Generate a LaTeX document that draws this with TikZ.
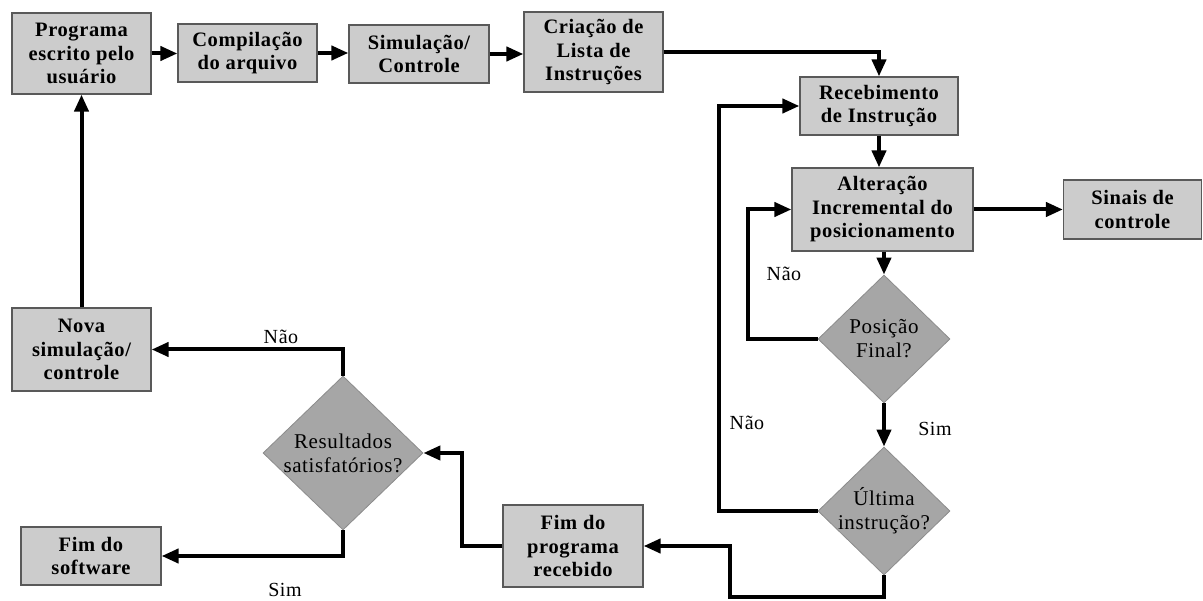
\documentclass[tikz,border=0pt]{standalone}
\usepackage{fontspec}
\setmainfont{Liberation Serif}
\newfontfamily\spacedserif[LetterSpace=3]{Liberation Serif}
\usetikzlibrary{shapes.geometric,arrows.meta}
\begin{document}
\begin{tikzpicture}[x=1pt,y=-1pt,
  procbox/.style={draw=black!65,line width=1.2pt,fill=black!20,rectangle,
    align=center,inner sep=0pt,font=\spacedserif\fontsize{20.5}{23.5}\selectfont\bfseries},
  decision/.style={draw=black!45,line width=0.8pt,fill=black!35,diamond,
    inner sep=0pt,minimum width=#1},
  dtext/.style={align=center,font=\spacedserif\fontsize{21}{24}\selectfont},
  flow/.style={line width=4pt,-{Triangle[length=17pt,width=14pt]}},
  answer/.style={font=\spacedserif\fontsize{20}{22}\selectfont}]
\useasboundingbox (0,0) rectangle (1203,601);

% process boxes
\node[procbox,minimum width=139pt,minimum height=81pt] (prog) at (81.5,53.5) {Programa\\escrito pelo\\usuário};
\node[procbox,minimum width=139pt,minimum height=58pt] (comp) at (247.5,53) {Compilação\\do arquivo};
\node[procbox,minimum width=140pt,minimum height=58pt] (simu) at (419,54) {Simulação/\\Controle};
\node[procbox,minimum width=139pt,minimum height=80pt] (cria) at (593.5,52) {Criação de\\Lista de\\Instruções};
\node[procbox,minimum width=158pt,minimum height=58pt] (rece) at (879,106) {Recebimento\\de Instrução};
\node[procbox,minimum width=181pt,minimum height=83pt] (alte) at (882.5,209.5) {Alteração\\Incremental do\\posicionamento};
\node[procbox,minimum width=138pt,minimum height=59pt] (sina) at (1132.5,209.5) {Sinais de\\controle};
\node[procbox,minimum width=139pt,minimum height=83pt] (nova) at (81.5,349.5) {Nova\\simulação/\\controle};
\node[procbox,minimum width=140pt,minimum height=58pt] (fims) at (91,556) {Fim do\\software};
\node[procbox,minimum width=140pt,minimum height=82pt] (fimp) at (573,546) {Fim do\\programa\\recebido};

% decisions
\node[decision=132pt,minimum height=128pt,label={[dtext]center:Posição\\Final?}] (pos) at (884,339) {};
\node[decision=132pt,minimum height=128pt,label={[dtext]center:Última\\instrução?}] (ult) at (884,511) {};
\node[decision=160pt,minimum height=154pt,label={[dtext]center:Resultados\\satisfatórios?}] (res) at (343,453) {};

% answer labels
\node[answer] (naoa) at (281,337) {Não};
\node[answer] (sima) at (285,590) {Sim};
\node[answer] (naob) at (784,274) {Não};
\node[answer] (naoc) at (747,423) {Não};
\node[answer] (simb) at (935,429) {Sim};

% main flow
\draw[flow] (prog.east) -- (prog.east -| comp.west);
\draw[flow] (comp.east) -- (comp.east -| simu.west);
\draw[flow] (simu.east) -- (simu.east -| cria.west);
\draw[flow] (cria.east) -| (rece.north);
\draw[flow] (rece.south) -- (rece.south |- alte.north);
\draw[flow] (pos.north |- alte.south) -- (pos.north);
\draw[flow] (alte.east) -- (sina.west);
\draw[flow] (pos.west) -- ++(-70,0) |- (alte.west);
\draw[flow] (pos.south) -- (ult.north);
\draw[flow] (ult.west) -- ++(-99,0) |- (rece.west);
\draw[flow] (ult.south) -- ++(0,22) -- ++(-154,0) |- (fimp.east);
\draw[flow] (fimp.west) -- ++(-40,0) |- (res.east);
\draw[flow] (res.north) |- (nova.east);
\draw[flow] (res.south) |- (fims.east);
\draw[flow] (nova.north) -- (prog.south);
\end{tikzpicture}
\end{document}
